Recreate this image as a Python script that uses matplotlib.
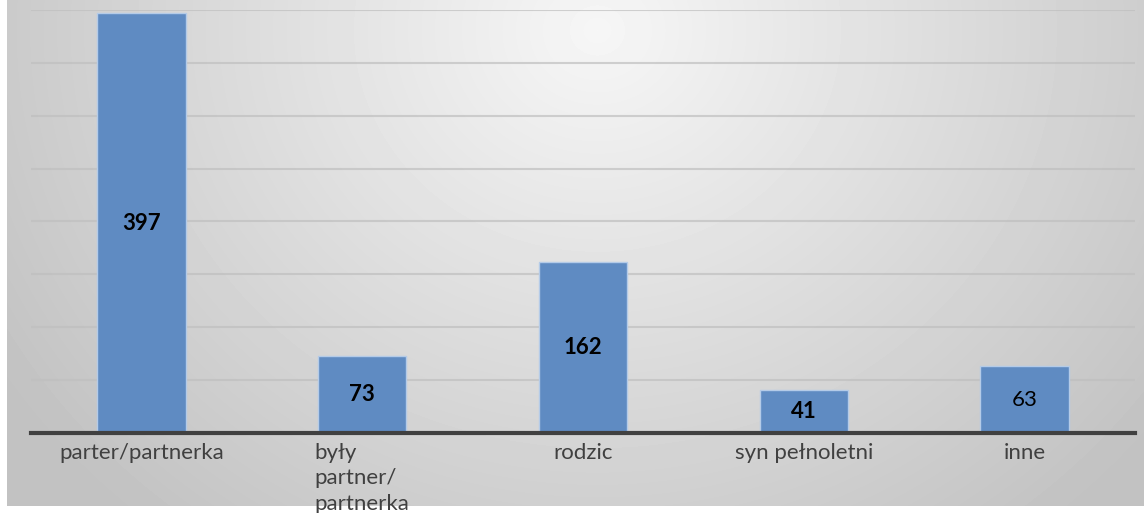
import numpy as np
import matplotlib.pyplot as plt

categories = ["parter/partnerka", "były\npartner/\npartnerka", "rodzic", "syn pełnoletni", "inne"]
values = [397, 73, 162, 41, 63]
bold_labels = [True, True, True, True, False]

plt.rcParams['font.family'] = ['Lato', 'DejaVu Sans']

W, H = 1144, 513
fig = plt.figure(figsize=(W / 100, H / 100), dpi=100)

# background panel with radial gradient
bg = fig.add_axes([7 / W, 7 / H, 1 - 7 / W, 1 - 7 / H], zorder=0)
yy, xx = np.mgrid[0:506, 0:1137]
d = np.sqrt((xx - 590) ** 2 + ((yy - 30) * 1.1) ** 2)
shade = np.clip(0.965 - 0.22 * (d / 760), 0.76, 1)
bg.imshow(shade, cmap='gray', vmin=0, vmax=1, aspect='auto', interpolation='bilinear')
bg.axis('off')

ax = fig.add_axes([31 / W, 80 / H, (1135 - 31) / W, (433 - 10) / H], zorder=1)
ax.patch.set_alpha(0)
x = np.arange(len(values))
ax.bar(x, values, width=0.4, color='#5f8bc2', edgecolor='#b4cbe8', linewidth=1, zorder=3)

ax.set_xlim(-0.5, len(values) - 0.5)
ax.set_ylim(0, 400)
ax.set_yticks(np.arange(50, 401, 50))
ax.yaxis.grid(True, color='#bfbfbf', linewidth=1.5, alpha=0.7, zorder=0)
ax.tick_params(axis='y', left=False, labelleft=False)
ax.tick_params(axis='x', length=0, pad=7)
ax.set_xticks(x)
ax.set_xticklabels(categories, fontsize=16, color='#404040', multialignment='left',
                   linespacing=1.35, va='top')
for s in ['top', 'right', 'left']:
    ax.spines[s].set_visible(False)
ax.spines['bottom'].set_color('#404040')
ax.spines['bottom'].set_linewidth(3)
ax.spines['bottom'].set_zorder(4)

for xi, v, b in zip(x, values, bold_labels):
    ax.text(xi, v / 2, str(v), ha='center', va='center', fontsize=16,
            fontweight='bold' if b else 'normal', color='black', zorder=5)

fig.savefig('out.png', dpi=100)
